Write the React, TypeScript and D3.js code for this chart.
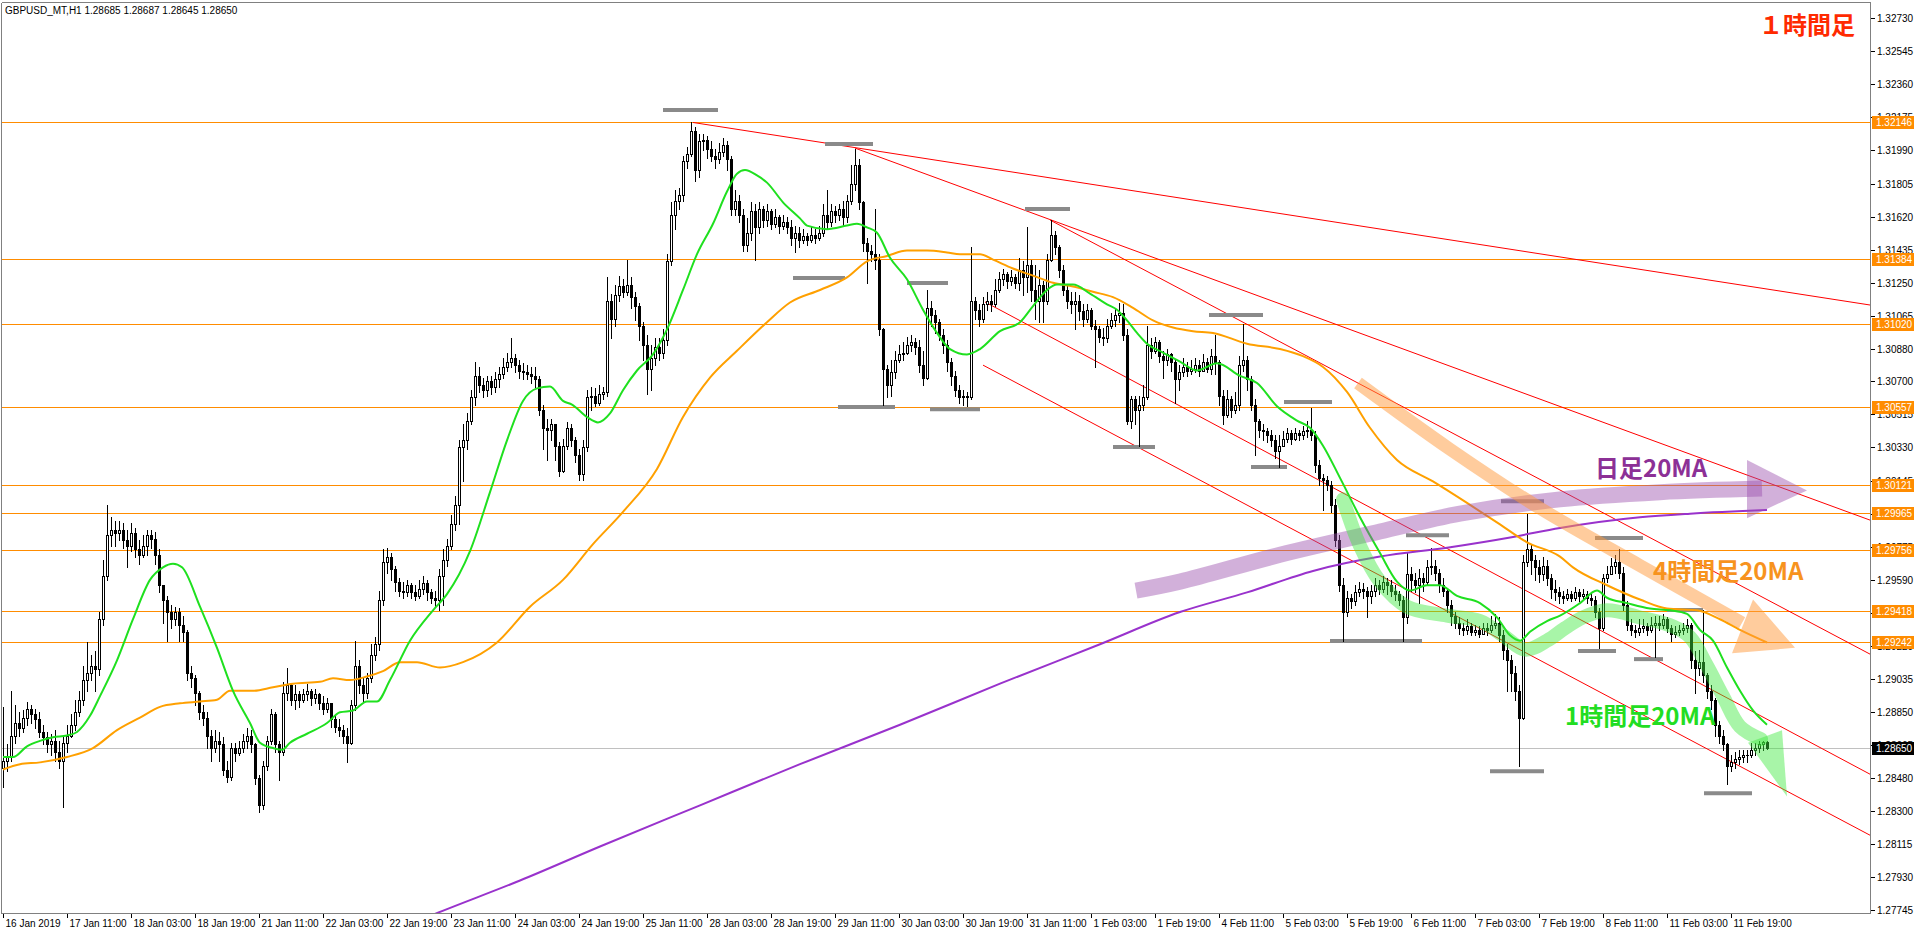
import React from "react";
import * as d3 from "d3";

const headerText = "GBPUSD_MT,H1  1.28685 1.28687 1.28645 1.28650";
const titleText = "１時間足";
const firstOpen = 1.2854;

const closes = [
1.2858,1.2860,1.2872,1.2879,1.2876,1.2882,1.2887,1.2884,1.2881,1.2874,
1.2871,1.2867,1.2869,1.2863,1.2858,1.2868,1.2872,1.2878,1.2885,1.2892,
1.2903,1.2907,1.2911,1.2909,1.2937,1.2961,1.2984,1.2987,1.2985,1.2987,
1.2981,1.2978,1.2985,1.2976,1.2973,1.2978,1.2984,1.2982,1.2973,1.2956,
1.2948,1.2941,1.2937,1.2941,1.2934,1.2930,1.2907,1.2904,1.2896,1.2885,
1.2882,1.2872,1.2865,1.2869,1.2867,1.2853,1.2849,1.2865,1.2862,1.2865,
1.2869,1.2872,1.2867,1.2848,1.2833,1.2855,1.2869,1.2884,1.2867,1.2863,
1.2896,1.2900,1.2892,1.2895,1.2892,1.2895,1.2897,1.2893,1.2895,1.2890,
1.2887,1.2890,1.2881,1.2877,1.2875,1.2872,1.2868,1.2889,1.2911,1.2900,
1.2896,1.2904,1.2917,1.2923,1.2948,1.2969,1.2972,1.2965,1.2958,1.2953,
1.2952,1.2956,1.2952,1.2950,1.2954,1.2957,1.2952,1.2949,1.2948,1.2961,
1.2970,1.2978,1.2990,1.3001,1.3033,1.3037,1.3048,1.3061,1.3073,1.3068,
1.3065,1.3070,1.3067,1.3071,1.3074,1.3078,1.3081,1.3083,1.3079,1.3076,
1.3075,1.3074,1.3073,1.3071,1.3054,1.3044,1.3043,1.3046,1.3034,1.3020,
1.3034,1.3044,1.3037,1.3029,1.3018,1.3033,1.3061,1.3062,1.3058,1.3063,
1.3064,1.3115,1.3105,1.3118,1.3123,1.3120,1.3124,1.3117,1.3112,1.3101,
1.3090,1.3077,1.3083,1.3089,1.3086,1.3093,1.3137,1.3163,1.3171,1.3174,
1.3193,1.3197,1.3210,1.3188,1.3204,1.3205,1.3200,1.3196,1.3194,1.3198,
1.3202,1.3194,1.3166,1.3171,1.3163,1.3146,1.3153,1.3165,1.3156,1.3166,
1.3160,1.3165,1.3158,1.3162,1.3157,1.3159,1.3156,1.3150,1.3153,1.3149,
1.3151,1.3149,1.3152,1.3150,1.3153,1.3163,1.3159,1.3165,1.3163,1.3166,
1.3162,1.3171,1.3180,1.3191,1.3170,1.3147,1.3143,1.3141,1.3138,1.3099,
1.3077,1.3068,1.3075,1.3082,1.3085,1.3086,1.3090,1.3092,1.3089,1.3079,
1.3072,1.3111,1.3107,1.3103,1.3096,1.3090,1.3081,1.3073,1.3065,1.3061,
1.3062,1.3061,1.3115,1.3110,1.3105,1.3113,1.3115,1.3113,1.3121,1.3127,
1.3130,1.3126,1.3128,1.3125,1.3132,1.3128,1.3135,1.3121,1.3115,1.3124,
1.3115,1.3138,1.3152,1.3145,1.3132,1.3121,1.3115,1.3113,1.3115,1.3109,
1.3105,1.3110,1.3101,1.3099,1.3095,1.3094,1.3101,1.3104,1.3107,1.3108,
1.3096,1.3048,1.3060,1.3054,1.3057,1.3061,1.3090,1.3087,1.3092,1.3084,
1.3082,1.3085,1.3081,1.3071,1.3075,1.3078,1.3076,1.3077,1.3079,1.3076,
1.3081,1.3077,1.3084,1.3081,1.3062,1.3051,1.3060,1.3054,1.3057,1.3079,
1.3082,1.3071,1.3057,1.3048,1.3043,1.3042,1.3040,1.3037,1.3031,1.3034,
1.3038,1.3041,1.3038,1.3041,1.3040,1.3042,1.3043,1.3040,1.3023,1.3016,
1.3015,1.3012,1.3001,1.2981,1.2956,1.2941,1.2949,1.2947,1.2952,1.2954,
1.2953,1.2950,1.2953,1.2956,1.2954,1.2958,1.2956,1.2953,1.2951,1.2948,
1.2938,1.2962,1.2959,1.2956,1.2960,1.2958,1.2966,1.2967,1.2963,1.2956,
1.2953,1.2945,1.2939,1.2935,1.2932,1.2931,1.2933,1.2930,1.2931,1.2929,
1.2932,1.2931,1.2934,1.2935,1.2928,1.2920,1.2914,1.2907,1.2897,1.2882,
1.2969,1.2976,1.2970,1.2966,1.2962,1.2967,1.2960,1.2954,1.2952,1.2950,
1.2949,1.2951,1.2949,1.2952,1.2950,1.2951,1.2949,1.2948,1.2941,1.2932,
1.2960,1.2962,1.2967,1.2969,1.2963,1.2945,1.2934,1.2931,1.2930,1.2932,
1.2933,1.2931,1.2934,1.2935,1.2934,1.2937,1.2932,1.2929,1.2930,1.2931,
1.2932,1.2934,1.2914,1.2910,1.2913,1.2906,1.2897,1.2892,1.2878,1.2872,
1.2867,1.2855,1.2857,1.2859,1.2860,1.2861,1.2861,1.2864,1.2865,1.2867,
1.28685,1.2865
];

const highs = [
1.2888,1.2867,1.2897,1.2889,1.2885,1.2886,1.2891,1.2889,1.2887,1.2885,
1.2878,1.2874,1.2873,1.2875,1.2869,1.2872,1.2878,1.2884,1.2892,1.2897,
1.2911,1.2924,1.2917,1.2919,1.2941,1.2970,1.3001,1.2994,1.2992,1.2992,
1.2991,1.2987,1.2991,1.2988,1.2981,1.2984,1.2987,1.2987,1.2986,1.2976,
1.2956,1.2950,1.2945,1.2944,1.2943,1.2939,1.2931,1.2911,1.2906,1.2897,
1.2889,1.2885,1.2875,1.2875,1.2874,1.2871,1.2858,1.2868,1.2868,1.2869,
1.2873,1.2876,1.2875,1.2868,1.2850,1.2858,1.2872,1.2887,1.2885,1.2869,
1.2902,1.2910,1.2901,1.2900,1.2897,1.2898,1.2901,1.2898,1.2898,1.2896,
1.2894,1.2893,1.2890,1.2883,1.2881,1.2878,1.2876,1.2892,1.2925,1.2914,
1.2904,1.2907,1.2923,1.2927,1.2953,1.2976,1.2977,1.2974,1.2967,1.2960,
1.2958,1.2959,1.2957,1.2956,1.2959,1.2961,1.2959,1.2954,1.2953,1.2965,
1.2976,1.2982,1.2995,1.3006,1.3037,1.3046,1.3052,1.3065,1.3081,1.3078,
1.3072,1.3073,1.3073,1.3075,1.3078,1.3083,1.3086,1.3094,1.3085,1.3082,
1.3080,1.3079,1.3078,1.3078,1.3073,1.3057,1.3049,1.3049,1.3046,1.3036,
1.3038,1.3047,1.3046,1.3039,1.3032,1.3037,1.3065,1.3067,1.3066,1.3068,
1.3067,1.3128,1.3119,1.3124,1.3129,1.3127,1.3138,1.3128,1.3120,1.3114,
1.3103,1.3096,1.3090,1.3094,1.3094,1.3099,1.3141,1.3170,1.3177,1.3178,
1.3196,1.3201,1.32146,1.3212,1.3208,1.3208,1.3207,1.3204,1.3200,1.3203,
1.3206,1.3204,1.3196,1.3177,1.3174,1.3166,1.3161,1.3170,1.3169,1.3170,
1.3168,1.3169,1.3166,1.3166,1.3163,1.3163,1.3162,1.3160,1.3157,1.3156,
1.3155,1.3153,1.3156,1.3155,1.3157,1.3169,1.3177,1.3169,1.3168,1.3169,
1.3171,1.3174,1.3191,1.3200,1.3194,1.3171,1.3150,1.3146,1.3166,1.3141,
1.3100,1.3079,1.3082,1.3087,1.3090,1.3092,1.3095,1.3096,1.3094,1.3093,
1.3087,1.3121,1.3115,1.3110,1.3105,1.3099,1.3093,1.3083,1.3076,1.3068,
1.3065,1.3064,1.3145,1.3117,1.3113,1.3117,1.3120,1.3118,1.3127,1.3131,
1.3133,1.3131,1.3132,1.3130,1.3139,1.3137,1.3156,1.3138,1.3135,1.3132,
1.3126,1.3141,1.3160,1.3154,1.3146,1.3135,1.3124,1.3120,1.3120,1.3118,
1.3113,1.3113,1.3111,1.3104,1.3101,1.3100,1.3105,1.3108,1.3111,1.3114,
1.3113,1.3099,1.3062,1.3062,1.3062,1.3068,1.3101,1.3094,1.3095,1.3093,
1.3087,1.3088,1.3086,1.3082,1.3079,1.3083,1.3081,1.3082,1.3083,1.3082,
1.3085,1.3083,1.3088,1.3096,1.3082,1.3065,1.3065,1.3062,1.3064,1.3084,
1.3102,1.3084,1.3073,1.3060,1.3049,1.3046,1.3044,1.3043,1.3040,1.3040,
1.3042,1.3044,1.3043,1.3044,1.3043,1.3045,1.3048,1.3055,1.3042,1.3026,
1.3018,1.3017,1.3014,1.3004,1.2984,1.2960,1.2953,1.2951,1.2956,1.2958,
1.2957,1.2955,1.2956,1.2960,1.2959,1.2961,1.2960,1.2959,1.2956,1.2953,
1.2950,1.2974,1.2966,1.2963,1.2965,1.2963,1.2970,1.2977,1.2970,1.2965,
1.2960,1.2954,1.2948,1.2941,1.2938,1.2935,1.2937,1.2935,1.2934,1.2933,
1.2935,1.2935,1.2939,1.2940,1.2938,1.2931,1.2923,1.2917,1.2911,1.2900,
1.2973,1.2996,1.2979,1.2973,1.2970,1.2972,1.2970,1.2962,1.2959,1.2955,
1.2953,1.2954,1.2953,1.2955,1.2954,1.2954,1.2953,1.2952,1.2950,1.2943,
1.2962,1.2967,1.2971,1.2973,1.2976,1.2966,1.2947,1.2937,1.2934,1.2937,
1.2937,1.2935,1.2938,1.2939,1.2939,1.2940,1.2938,1.2934,1.2933,1.2934,
1.2935,1.2937,1.2935,1.2919,1.2920,1.2942,1.2907,1.2900,1.2893,1.2880,
1.2875,1.2868,1.2861,1.2863,1.2864,1.2864,1.2864,1.2868,1.2868,1.2869,
1.2869,1.28687
];

const lows = [
1.2843,1.2852,1.2858,1.2868,1.2872,1.2874,1.2878,1.2879,1.2876,1.2871,
1.2867,1.2863,1.2861,1.2858,1.2854,1.2832,1.2863,1.2871,1.2875,1.2883,
1.2889,1.2897,1.2903,1.2897,1.2906,1.2934,1.2959,1.2978,1.2978,1.2981,
1.2977,1.2966,1.2975,1.2972,1.2968,1.2972,1.2973,1.2977,1.2968,1.2952,
1.2935,1.2925,1.2932,1.2934,1.2925,1.2925,1.2903,1.2899,1.2889,1.2881,
1.2878,1.2865,1.2858,1.2863,1.2858,1.2850,1.2846,1.2847,1.2858,1.2861,
1.2863,1.2865,1.2863,1.2845,1.2829,1.2831,1.2853,1.2867,1.2863,1.2847,
1.2861,1.2892,1.2889,1.2887,1.2888,1.2891,1.2892,1.2889,1.2890,1.2887,
1.2884,1.2885,1.2877,1.2874,1.2872,1.2868,1.2857,1.2867,1.2886,1.2896,
1.2891,1.2893,1.2902,1.2914,1.2920,1.2945,1.2963,1.2959,1.2953,1.2950,
1.2949,1.2950,1.2949,1.2948,1.2949,1.2951,1.2948,1.2946,1.2944,1.2942,
1.2945,1.2967,1.2976,1.2987,1.2990,1.3014,1.3032,1.3046,1.3057,1.3064,
1.3061,1.3062,1.3063,1.3064,1.3067,1.3072,1.3076,1.3078,1.3075,1.3072,
1.3071,1.3071,1.3069,1.3067,1.3051,1.3032,1.3026,1.3037,1.3026,1.3017,
1.3019,1.3032,1.3034,1.3025,1.3015,1.3015,1.3031,1.3054,1.3056,1.3057,
1.3060,1.3062,1.3094,1.3101,1.3115,1.3117,1.3118,1.3111,1.3104,1.3093,
1.3082,1.3063,1.3065,1.3079,1.3082,1.3083,1.3090,1.3135,1.3155,1.3166,
1.3171,1.3189,1.3196,1.3182,1.3184,1.3199,1.3195,1.3193,1.3189,1.3192,
1.3196,1.3188,1.3163,1.3163,1.3159,1.3143,1.3143,1.3149,1.3138,1.3153,
1.3156,1.3157,1.3155,1.3156,1.3153,1.3155,1.3153,1.3146,1.3142,1.3145,
1.3147,1.3146,1.3148,1.3147,1.3149,1.3151,1.3155,1.3157,1.3159,1.3160,
1.3157,1.3159,1.3169,1.3177,1.3166,1.3143,1.3125,1.3137,1.3133,1.3096,
1.3057,1.3061,1.3062,1.3072,1.3081,1.3082,1.3085,1.3087,1.3085,1.3075,
1.3068,1.3071,1.3101,1.3097,1.3093,1.3086,1.3076,1.3068,1.3062,1.3058,
1.3057,1.3056,1.3060,1.3105,1.3101,1.3103,1.3110,1.3109,1.3112,1.3120,
1.3124,1.3122,1.3124,1.3122,1.3121,1.3118,1.3120,1.3115,1.3105,1.3103,
1.3103,1.3113,1.3137,1.3141,1.3128,1.3118,1.3111,1.3108,1.3099,1.3104,
1.3101,1.3103,1.3099,1.3078,1.3092,1.3090,1.3092,1.3100,1.3101,1.3103,
1.3093,1.3046,1.3044,1.3046,1.3034,1.3054,1.3060,1.3083,1.3086,1.3081,
1.3072,1.3079,1.3076,1.3058,1.3065,1.3073,1.3073,1.3074,1.3075,1.3073,
1.3076,1.3075,1.3074,1.3074,1.3057,1.3046,1.3050,1.3050,1.3052,1.3054,
1.3076,1.3065,1.3054,1.3029,1.3039,1.3037,1.3036,1.3034,1.3027,1.3022,
1.3034,1.3036,1.3035,1.3037,1.3037,1.3038,1.3039,1.3037,1.3019,1.3012,
1.2998,1.3009,1.2997,1.2978,1.2953,1.2925,1.2939,1.2943,1.2945,1.2950,
1.2949,1.2938,1.2946,1.2950,1.2951,1.2952,1.2951,1.2950,1.2948,1.2945,
1.2925,1.2935,1.2953,1.2952,1.2946,1.2953,1.2956,1.2962,1.2959,1.2952,
1.2950,1.2941,1.2934,1.2932,1.2929,1.2928,1.2929,1.2928,1.2928,1.2927,
1.2929,1.2928,1.2930,1.2932,1.2925,1.2915,1.2897,1.2897,1.2892,1.2855,
1.2881,1.2967,1.2962,1.2959,1.2958,1.2959,1.2956,1.2949,1.2948,1.2946,
1.2946,1.2948,1.2947,1.2948,1.2947,1.2948,1.2946,1.2945,1.2938,1.2921,
1.2931,1.2958,1.2962,1.2963,1.2960,1.2942,1.2931,1.2928,1.2927,1.2928,
1.2930,1.2928,1.2930,1.2916,1.2931,1.2932,1.2930,1.2925,1.2927,1.2928,
1.2929,1.2930,1.2910,1.2896,1.2906,1.2902,1.2893,1.2887,1.2872,1.2868,
1.2864,1.2845,1.2852,1.2854,1.2856,1.2857,1.2857,1.2860,1.2861,1.2863,
1.2864,1.28645
];

const timeLabels = [
"16 Jan 2019","17 Jan 11:00","18 Jan 03:00","18 Jan 19:00","21 Jan 11:00","22 Jan 03:00","22 Jan 19:00",
"23 Jan 11:00","24 Jan 03:00","24 Jan 19:00","25 Jan 11:00","28 Jan 03:00","28 Jan 19:00","29 Jan 11:00",
"30 Jan 03:00","30 Jan 19:00","31 Jan 11:00","1 Feb 03:00","1 Feb 19:00","4 Feb 11:00","5 Feb 03:00",
"5 Feb 19:00","6 Feb 11:00","7 Feb 03:00","7 Feb 19:00","8 Feb 11:00","11 Feb 03:00","11 Feb 19:00"
];
const barsPerLabel = 16;

const priceTicks = [
1.32730,1.32545,1.32360,1.32175,1.31990,1.31805,1.31620,1.31435,1.31250,1.31065,1.30880,1.30700,
1.30515,1.30330,1.30145,1.29960,1.29775,1.29590,1.29405,1.29220,1.29035,1.28850,1.28665,1.28480,
1.28300,1.28115,1.27930,1.27745
];

const levels = [1.32146,1.31384,1.31020,1.30557,1.30121,1.29965,1.29756,1.29418,1.29242];
const currentPrice = 1.28650;

// trend lines: [barFrom, priceFrom, barTo, priceTo]
const trendLines = [
[172.5,1.32146,466.75,1.31126],
[213,1.32003,466.75,1.29924],
[261.75,1.31601,466.75,1.29175],
[245.5,1.31143,466.75,1.28504],
[245,1.30790,466.75,1.28163]
];

// gray swing markers: [barFrom, barTo, price]
const markers = [
[165,178.75,1.32216],[197.5,210.5,1.31277],[205.5,217.5,1.32026],[226,236.25,1.31249],
[208.75,223,1.30556],[231.75,244.25,1.30544],[255.5,266.75,1.31663],[277.5,288,1.30332],
[301.5,315,1.31070],[312,321,1.30221],[320.25,332.25,1.30584],[331.75,354.75,1.29248],
[350.75,361.5,1.29840],[374.5,385.25,1.30030],[371.75,385.25,1.28521],[398,410,1.29824],
[393.75,403.25,1.29192],[407.75,415,1.29147],[416,425,1.29421],[425.25,437.25,1.28398]
];

const ma20H1 = [
[0,1.2860],[2.5,1.2860],[6,1.2866],[9.25,1.2869],[12.5,1.2871],[16,1.2872],[18.5,1.2874],[21.75,1.2883],
[24.25,1.2894],[28.5,1.2914],[32.5,1.2937],[36.75,1.2959],[40,1.2966],[42.5,1.2968],[44.75,1.2966],
[49.25,1.2944],[53.5,1.2921],[57.5,1.2897],[61.75,1.2879],[64.25,1.2868],[67.5,1.2865],[69.75,1.2864],
[71.75,1.2868],[76,1.2873],[81,1.2879],[84.25,1.2885],[87.5,1.2886],[91,1.2891],[93.5,1.2891],
[96.75,1.2903],[101.75,1.2925],[107.5,1.2942],[111,1.2951],[116.75,1.2975],[121.75,1.3008],[126,1.3037],
[130,1.3059],[133.5,1.3066],[136.75,1.3067],[140,1.3059],[142.25,1.3057],[146,1.3050],[148.75,1.3047],
[151.75,1.3052],[155,1.3065],[158.5,1.3076],[162.5,1.3085],[166,1.3099],[170,1.3121],[173.5,1.3141],
[177.5,1.3158],[181,1.3176],[183.5,1.3186],[185.5,1.3188],[188.5,1.3185],[191,1.3181],[195,1.3170],
[199.25,1.3161],[201,1.3157],[206,1.3155],[211,1.3157],[213.5,1.3158],[216,1.3156],[218.5,1.3153],
[221.75,1.3139],[226,1.3127],[230,1.3110],[233.5,1.3097],[236.75,1.3088],[241,1.3085],[244.25,1.3088],
[249.25,1.3098],[254.25,1.3103],[257.5,1.3112],[261,1.3121],[263.5,1.3124],[267.5,1.3124],[271.75,1.3119],
[276,1.3113],[278.5,1.3110],[281,1.3104],[283.5,1.3097],[286,1.3091],[290,1.3086],[294.25,1.3081],
[298.5,1.3076],[303.5,1.3080],[309.25,1.3073],[313.5,1.3069],[318.5,1.3056],[323.5,1.3048],[326.75,1.3044],
[330,1.3034],[334.25,1.3016],[339.25,1.2994],[344.25,1.2974],[348.5,1.2958],[351.75,1.2953],[356,1.2956],
[359.25,1.2956],[363.5,1.2950],[369.25,1.2946],[373.5,1.2938],[376.75,1.2928],[379.25,1.2925],[381.75,1.2930],
[386,1.2936],[389.25,1.2939],[394.25,1.2946],[398.5,1.2953],[401,1.2949],[406,1.2946],[411.75,1.2943],
[416.75,1.2942],[421,1.2940],[424.25,1.2931],[427.5,1.2925],[431,1.2910],[434.25,1.2897],[437.5,1.2886],
[441,1.2878]
];

const ma20H4 = [
[0,1.2853],[4.25,1.2856],[9.25,1.2857],[16,1.2860],[22.5,1.2865],[28.5,1.2875],[34.25,1.2882],[39.25,1.2888],
[44.25,1.2890],[49.25,1.2891],[53.5,1.2892],[56.75,1.2897],[62.5,1.2897],[67.5,1.2899],[72.5,1.2901],
[79.25,1.2902],[82.5,1.2904],[86.75,1.2903],[91,1.2905],[95,1.2908],[99.25,1.2913],[103.5,1.2913],
[109.25,1.2910],[115,1.2913],[123.5,1.2924],[131.75,1.2944],[140,1.2959],[147.5,1.2979],[155,1.2997],
[163.5,1.3021],[170,1.3050],[176.75,1.3072],[183.5,1.3087],[191,1.3103],[196.75,1.3114],[204.25,1.3121],
[211,1.3128],[216,1.3137],[221,1.3140],[226,1.3143],[231,1.3143],[236,1.3142],[239.25,1.3141],[244.25,1.3141],
[247.5,1.3138],[252.5,1.3133],[257.5,1.3129],[262.5,1.3125],[267.5,1.3123],[272.5,1.3120],[277.5,1.3117],
[282.5,1.3111],[287.5,1.3104],[292.5,1.3100],[297.5,1.3098],[302.5,1.3097],[311,1.3091],[319.25,1.3088],
[325,1.3084],[330,1.3078],[336,1.3064],[341.75,1.3044],[348.5,1.3026],[357.5,1.3014],[366,1.3002],
[374.25,1.2990],[381,1.2980],[389.25,1.2972],[392.5,1.2966],[401,1.2956],[409.25,1.2948],[416,1.2943],
[423.5,1.2942],[429.25,1.2937],[434.25,1.2931],[441,1.2924]
];

const ma20D1 = [
[100,1.2765],[108.75,1.2773],[129.25,1.2791],[149.25,1.2810],[174.25,1.2833],[199.25,1.2856],[224.25,1.2878],
[249.25,1.2901],[274.25,1.2923],[294.25,1.2941],[311,1.2952],[327.5,1.2964],[344.25,1.2972],[361,1.2977],
[377.5,1.2983],[389.25,1.2988],[409.25,1.2994],[421.75,1.2996],[441,1.2998]
];

// annotation arrows (bar, price)
const purpleBand = [[283.25,1.2953],[294.25,1.2958],[319.25,1.2973],[344.25,1.2986],[364.25,1.2996],[389.25,1.3004],[414.25,1.3008],[439.75,1.3010]];
const purpleHead = [[436,1.3026],[436,1.29935],[451,1.3009]];
const orangeBand = [[338.75,1.3069],[361.75,1.3032],[384.25,1.2999],[409.25,1.2967],[434.75,1.2935]];
const orangeHead = [[432.25,1.2918],[437.5,1.2948],[448,1.2921]];
const greenBand = [[335,1.3004],[339.25,1.2978],[344.25,1.2958],[351,1.2944],[361,1.2939],[369.25,1.2936],[375,1.2928],[380.5,1.2920],[386,1.2925],[390.5,1.2932],[395,1.2938],[401,1.2942],[409.25,1.2938],[417.5,1.2933],[421.75,1.2927],[426,1.2911],[430,1.2894],[434.25,1.2877],[439.5,1.2870]];
const greenHead = [[436.25,1.2868],[444.75,1.2875],[446,1.2838]];

const notes = [
  { text: "日足20MA", bar: 398, price: 1.30165, color: "#8c3096" },
  { text: "4時間足20MA", bar: 412.5, price: 1.29589, color: "#f7931e" },
  { text: "1時間足20MA", bar: 390.5, price: 1.28778, color: "#22dd22" },
];

const W = 1916, H = 933;
const PL = 2, PR = 1870, PT = 3, PB = 913;
const axisFont = "'Liberation Sans', Arial, sans-serif";
const jpFont = "'Noto Sans CJK JP', 'Noto Sans', sans-serif";

export default function App() {
  const x = d3.scaleLinear().domain([0, 441]).range([3, 1767]);
  const y = d3.scaleLinear().domain([1.27745, 1.3273]).range([910, 18]);

  const bars = closes.map((c, i) => {
    const o = i === 0 ? firstOpen : closes[i - 1];
    return { i, o, c, h: Math.max(highs[i], o, c), l: Math.min(lows[i], o, c) };
  });

  const maLine = d3.line().x((d: any) => x(d[0])).y((d: any) => y(d[1])).curve(d3.curveMonotoneX);
  const bandLine = d3.line().x((d: any) => x(d[0])).y((d: any) => y(d[1])).curve(d3.curveCatmullRom.alpha(0.5));
  const poly = (pts: number[][]) => pts.map((p) => `${x(p[0])},${y(p[1])}`).join(" ");

  return (
    <svg width={W} height={H} style={{ position: "absolute", left: 0, top: 0, background: "#fff" }}
      xmlns="http://www.w3.org/2000/svg">
      <defs>
        <clipPath id="plot">
          <rect x={PL} y={PT} width={PR - PL} height={PB - PT} />
        </clipPath>
      </defs>
      <rect x={0} y={0} width={W} height={H} fill="#fff" />

      <g clipPath="url(#plot)">
        {/* horizontal levels */}
        <g shapeRendering="crispEdges">
          {levels.map((v, k) => (
            <line key={k} x1={PL} x2={PR} y1={Math.round(y(v)) + 0.5} y2={Math.round(y(v)) + 0.5} stroke="#ff8c00" strokeWidth={1} />
          ))}
          <line x1={PL} x2={PR} y1={Math.round(y(currentPrice)) + 0.5} y2={Math.round(y(currentPrice)) + 0.5} stroke="#c0c0c0" strokeWidth={1} />
        </g>

        {/* trend lines */}
        {trendLines.map((t, k) => {
          const slope = (t[3] - t[1]) / (t[2] - t[0]);
          const endBar = 480;
          return (
            <line key={k} x1={x(t[0])} y1={y(t[1])} x2={x(endBar)} y2={y(t[1] + slope * (endBar - t[0]))}
              stroke="#ff0000" strokeWidth={1} />
          );
        })}

        {/* gray markers */}
        {markers.map((m, k) => (
          <line key={k} x1={x(m[0])} x2={x(m[1])} y1={y(m[2])} y2={y(m[2])} stroke="#8a8a8a" strokeWidth={4} />
        ))}

        {/* candles */}
        <g shapeRendering="crispEdges">
          {bars.map((b) => {
            const px = Math.round(x(b.i));
            const yh = Math.round(y(b.h));
            const yl = Math.round(y(b.l));
            const top = Math.round(y(Math.max(b.o, b.c)));
            const bot = Math.round(y(Math.min(b.o, b.c)));
            const bull = b.c >= b.o;
            return (
              <g key={b.i}>
                <rect x={px} y={yh} width={1} height={Math.max(1, yl - yh + 1)} fill="#000" />
                {bot - top < 2 ? (
                  <rect x={px - 1} y={top} width={3} height={Math.max(1, bot - top + 1)} fill="#000" />
                ) : bull ? (
                  <rect x={px - 0.5} y={top + 0.5} width={2} height={bot - top} fill="#fff" stroke="#000" strokeWidth={1} />
                ) : (
                  <rect x={px - 1} y={top} width={3} height={bot - top + 1} fill="#000" />
                )}
              </g>
            );
          })}
        </g>

        {/* moving averages */}
        <path d={maLine(ma20D1 as any) || ""} fill="none" stroke="#9932cc" strokeWidth={2} />
        <path d={maLine(ma20H4 as any) || ""} fill="none" stroke="#ffa000" strokeWidth={2} />
        <path d={maLine(ma20H1 as any) || ""} fill="none" stroke="#1fe01f" strokeWidth={2} />

        {/* annotation arrows */}
        <path d={bandLine(purpleBand as any) || ""} fill="none" stroke="#9c4fae" strokeOpacity={0.45} strokeWidth={16} />
        <polygon points={poly(purpleHead)} fill="#9c4fae" fillOpacity={0.45} />
        <path d={bandLine(orangeBand as any) || ""} fill="none" stroke="#ff9a3c" strokeOpacity={0.5} strokeWidth={13} />
        <polygon points={poly(orangeHead)} fill="#ff9a3c" fillOpacity={0.5} />
        <path d={bandLine(greenBand as any) || ""} fill="none" stroke="#3ee83e" strokeOpacity={0.45} strokeWidth={14} strokeLinecap="round" strokeLinejoin="round" />
        <polygon points={poly(greenHead)} fill="#3ee83e" fillOpacity={0.45} />

        {notes.map((n, k) => (
          <text key={k} x={x(n.bar)} y={y(n.price)} fontFamily={jpFont} fontWeight={700} fontSize={24} fill={n.color}>{n.text}</text>
        ))}

        <text x={1759} y={34} fontFamily={jpFont} fontWeight={700} fontSize={24} fill="#ff2a00">{titleText}</text>
        <text x={5} y={14} fontFamily={axisFont} fontSize={10} fill="#000">{headerText}</text>
      </g>

      {/* frame */}
      <g shapeRendering="crispEdges">
        <line x1={PL - 0.5} x2={PL - 0.5} y1={PT} y2={PB} stroke="#808080" />
        <line x1={PL} x2={PR} y1={PT - 0.5} y2={PT - 0.5} stroke="#808080" />
        <line x1={PR + 0.5} x2={PR + 0.5} y1={PT - 1} y2={PB + 1} stroke="#808080" />
        <line x1={PL - 1} x2={PR + 1} y1={PB + 0.5} y2={PB + 0.5} stroke="#808080" />
      </g>

      {/* right price axis */}
      <g fontFamily={axisFont} fontSize={10} fill="#000">
        {priceTicks.map((v, k) => {
          const yy = Math.round(y(v)) + 0.5;
          return (
            <g key={k}>
              <line x1={PR + 1} x2={PR + 5} y1={yy} y2={yy} stroke="#000" shapeRendering="crispEdges" />
              <text x={PR + 7} y={yy + 3.5}>{v.toFixed(5)}</text>
            </g>
          );
        })}
        {levels.map((v, k) => {
          const yy = Math.round(y(v)) + 0.5;
          return (
            <g key={"l" + k}>
              <rect x={PR + 2} y={yy - 6.5} width={42} height={13} fill="#ff8c00" />
              <text x={PR + 6} y={yy + 3.5} fill="#fff">{v.toFixed(5)}</text>
            </g>
          );
        })}
        <rect x={PR + 2} y={Math.round(y(currentPrice)) - 6} width={42} height={13} fill="#000" />
        <text x={PR + 6} y={Math.round(y(currentPrice)) + 4} fill="#fff">{currentPrice.toFixed(5)}</text>
      </g>

      {/* bottom time axis */}
      <g fontFamily={axisFont} fontSize={10} fill="#000">
        {timeLabels.map((t, k) => {
          const xx = Math.round(x(k * barsPerLabel)) + 0.5;
          return (
            <g key={k}>
              <line x1={xx} x2={xx} y1={PB + 1} y2={PB + 5} stroke="#000" shapeRendering="crispEdges" />
              <text x={xx + 2} y={PB + 14}>{t}</text>
            </g>
          );
        })}
      </g>
    </svg>
  );
}
